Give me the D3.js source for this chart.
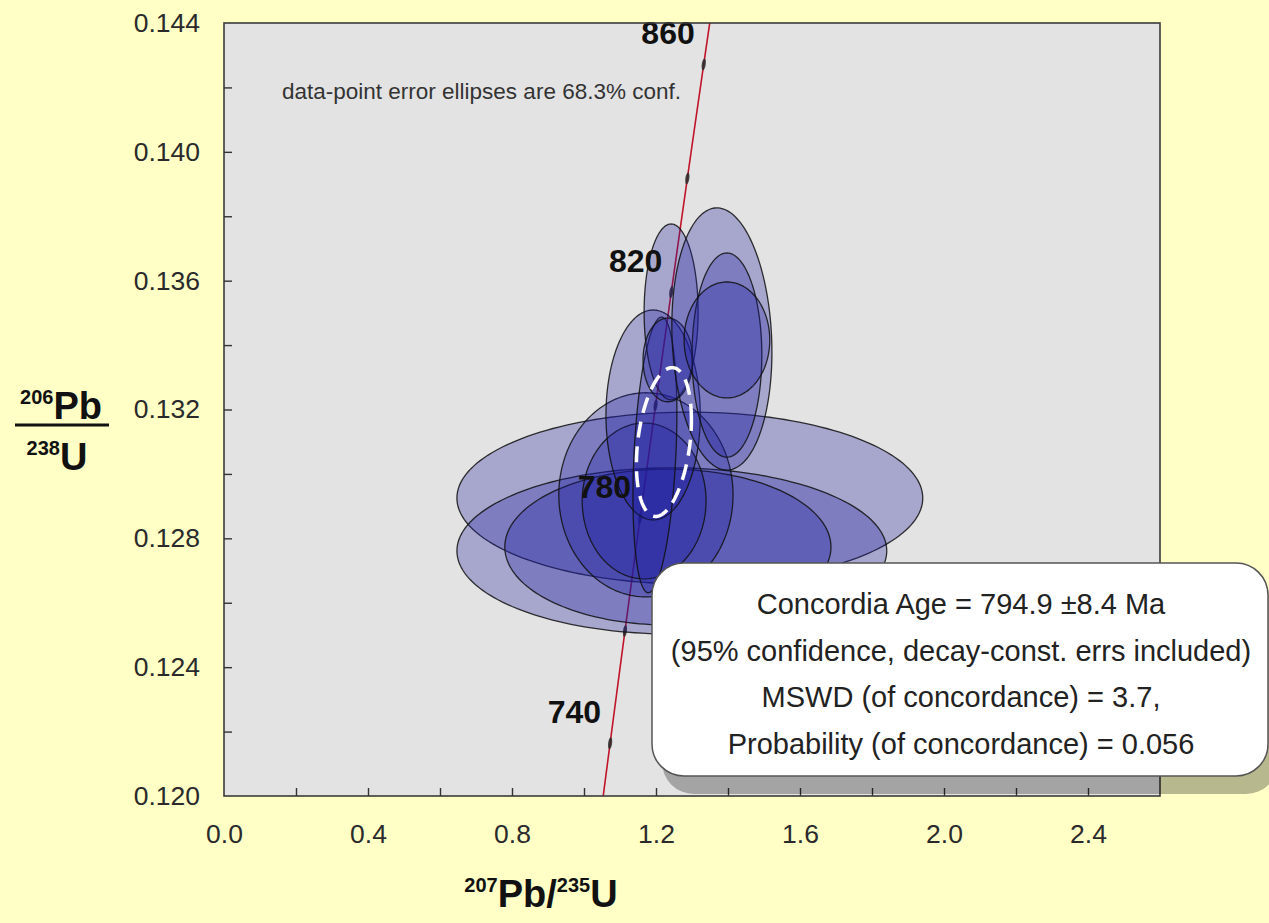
<!DOCTYPE html>
<html>
<head>
<meta charset="utf-8">
<script src="https://cdn.jsdelivr.net/npm/d3@7/dist/d3.min.js"></script>
<style>
  html, body { margin: 0; padding: 0; background: #ffffc6; }
  svg { display: block; }
  text { font-family: "Liberation Sans", Arial, sans-serif; }
</style>
</head>
<body>
<svg id="chart" width="1269" height="923"></svg>
<script>
// ---- data -------------------------------------------------------------
// Error ellipses (68.3% conf.): centre 207Pb/235U, centre 206Pb/238U,
// half-axis in x, half-axis in y, error correlation
const ellX   = [1.294, 1.244, 1.233, 1.172, 1.167, 1.192, 1.197, 1.242, 1.233, 1.383, 1.397, 1.397];
const ellY   = [0.12925, 0.12761, 0.12773, 0.12935, 0.12916, 0.13183, 0.13059, 0.13503, 0.13354, 0.13419, 0.13369, 0.13416];
const ellSX  = [0.647, 0.597, 0.453, 0.242, 0.172, 0.131, 0.061, 0.075, 0.069, 0.139, 0.097, 0.119];
const ellSY  = [0.00267, 0.00258, 0.00242, 0.00317, 0.00242, 0.00326, 0.00428, 0.00273, 0.00130, 0.00407, 0.00317, 0.00180];
const ellRho = [0, 0, 0, 0, 0, 0, 0.3, 0, 0, -0.1, 0, 0];

// Concordia-age ellipse (95% conf.)
const ageEllipse = { x: 1.222, y: 0.13099, sx: 0.0764, sy: 0.00231, rho: 0.3 };

// Concordia curve: decay constants (1/yr) and age marks (Ma)
const lambda238 = 1.55125e-10;
const lambda235 = 9.8485e-10;
const ageMarks  = [740, 760, 780, 800, 820, 840, 860];
const ageLabels = [740, 780, 820, 860];

// Axes
const xDomain = [0, 2.6];
const yDomain = [0.120, 0.144];
const xTicksMinor = [0.0, 0.2, 0.4, 0.6, 0.8, 1.0, 1.2, 1.4, 1.6, 1.8, 2.0, 2.2, 2.4];
const xTicksMajor = [0.0, 0.4, 0.8, 1.2, 1.6, 2.0, 2.4];
const yTicksMinor = [0.120, 0.122, 0.124, 0.126, 0.128, 0.130, 0.132, 0.134, 0.136, 0.138, 0.140, 0.142, 0.144];
const yTicksMajor = [0.120, 0.124, 0.128, 0.132, 0.136, 0.140, 0.144];

const noteText = "data-point error ellipses are 68.3% conf.";
const resultLines = [
  "Concordia Age = 794.9 \u00B18.4 Ma",
  "(95% confidence, decay-const. errs included)",
  "MSWD (of concordance) = 3.7,",
  "Probability (of concordance) = 0.056"
];

// ---- layout -----------------------------------------------------------
const plot = { left: 224, top: 23, right: 1160, bottom: 796 };
const svg = d3.select("#chart");

const x = d3.scaleLinear().domain(xDomain).range([plot.left, plot.right]);
const y = d3.scaleLinear().domain(yDomain).range([plot.bottom, plot.top]);

svg.append("defs").append("clipPath").attr("id", "plotClip")
  .append("rect")
  .attr("x", plot.left).attr("y", plot.top)
  .attr("width", plot.right - plot.left).attr("height", plot.bottom - plot.top);

// plot background
svg.append("rect")
  .attr("x", plot.left).attr("y", plot.top)
  .attr("width", plot.right - plot.left).attr("height", plot.bottom - plot.top)
  .attr("fill", "#e3e3e3");

const g = svg.append("g").attr("clip-path", "url(#plotClip)");

// concordia curve
function concordia(t) {
  return [Math.exp(lambda235 * t * 1e6) - 1, Math.exp(lambda238 * t * 1e6) - 1];
}
const curveAges = d3.range(700, 900.5, 0.5);
const line = d3.line().x(d => x(d[0])).y(d => y(d[1]));
g.append("path")
  .datum(curveAges.map(concordia))
  .attr("d", line)
  .attr("fill", "none")
  .attr("stroke", "#c0142a")
  .attr("stroke-width", 1.6);

// age marks on the curve, drawn as small ellipses aligned with the curve
ageMarks.forEach(t => {
  const p = concordia(t), q = concordia(t + 1);
  const px = x(p[0]), py = y(p[1]);
  const ang = Math.atan2(y(q[1]) - py, x(q[0]) - px) * 180 / Math.PI;
  g.append("ellipse")
    .attr("cx", px).attr("cy", py)
    .attr("rx", 6).attr("ry", 2)
    .attr("transform", `rotate(${ang},${px},${py})`)
    .attr("fill", "#2a2a2a")
    .attr("opacity", 0.85);
});

// error ellipses
function ellipsePoints(cx, cy, sx, sy, rho) {
  const r = Math.sqrt(1 - rho * rho);
  return d3.range(0, 2 * Math.PI, Math.PI / 90).map(a => [
    cx + sx * Math.cos(a),
    cy + sy * (rho * Math.cos(a) + r * Math.sin(a))
  ]);
}
const closed = d3.line().x(d => x(d[0])).y(d => y(d[1])).curve(d3.curveLinearClosed);

g.selectAll("path.ell")
  .data(ellX.map((v, i) => ellipsePoints(v, ellY[i], ellSX[i], ellSY[i], ellRho[i])))
  .join("path")
  .attr("class", "ell")
  .attr("d", closed)
  .attr("fill", "#1e1ea0")
  .attr("fill-opacity", 0.3)
  .attr("stroke", "#111")
  .attr("stroke-opacity", 0.85)
  .attr("stroke-width", 1.3);

// concordia-age ellipse
g.append("path")
  .datum(ellipsePoints(ageEllipse.x, ageEllipse.y, ageEllipse.sx, ageEllipse.sy, ageEllipse.rho))
  .attr("d", closed)
  .attr("fill", "none")
  .attr("stroke", "#ffffff")
  .attr("stroke-width", 3.5)
  .attr("stroke-dasharray", "16 9");

// age labels
ageLabels.forEach(t => {
  const p = concordia(t);
  svg.append("text")
    .attr("x", x(p[0]) - 9)
    .attr("y", y(p[1]) - 20)
    .attr("text-anchor", "end")
    .attr("font-size", 32)
    .attr("font-weight", "bold")
    .attr("fill", "#111")
    .text(t);
});

// note
svg.append("text")
  .attr("x", 282).attr("y", 99)
  .attr("font-size", 22.5)
  .attr("fill", "#333")
  .text(noteText);

// plot frame
svg.append("rect")
  .attr("x", plot.left).attr("y", plot.top)
  .attr("width", plot.right - plot.left).attr("height", plot.bottom - plot.top)
  .attr("fill", "none").attr("stroke", "#3a3a3a").attr("stroke-width", 1.6);

// axes
const fmtX = d => xTicksMajor.some(v => Math.abs(v - d) < 1e-9) ? d3.format(".1f")(d) : "";
const fmtY = d => yTicksMajor.some(v => Math.abs(v - d) < 1e-9) ? d3.format(".3f")(d) : "";

const xAxis = svg.append("g")
  .attr("transform", `translate(0,${plot.bottom})`)
  .call(d3.axisBottom(x).tickValues(xTicksMinor).tickFormat(fmtX).tickSize(-8).tickPadding(28));
const yAxis = svg.append("g")
  .attr("transform", `translate(${plot.left},0)`)
  .call(d3.axisLeft(y).tickValues(yTicksMinor).tickFormat(fmtY).tickSize(-8).tickPadding(24));

[xAxis, yAxis].forEach(a => {
  a.select(".domain").remove();
  a.selectAll(".tick line").attr("stroke", "#333").attr("stroke-width", 1.4);
  a.selectAll(".tick text")
    .attr("font-size", 26.5)
    .attr("fill", "#2a2a2a")
    .style("font-family", "'Liberation Sans', Arial, sans-serif");
});
// hide ticks at the frame corners
xAxis.selectAll(".tick").filter(d => d === 0).select("line").remove();
yAxis.selectAll(".tick").filter(d => Math.abs(d - 0.120) < 1e-9 || Math.abs(d - 0.144) < 1e-9).select("line").remove();

// x-axis title: 207Pb/235U
const xt = svg.append("text")
  .attr("x", 541).attr("y", 907)
  .attr("text-anchor", "middle")
  .attr("font-weight", "bold")
  .attr("fill", "#111");
xt.append("tspan").attr("font-size", 20).attr("dy", -15).text("207");
xt.append("tspan").attr("font-size", 38).attr("dy", 15).text("Pb/");
xt.append("tspan").attr("font-size", 20).attr("dy", -15).text("235");
xt.append("tspan").attr("font-size", 38).attr("dy", 15).text("U");

// y-axis title: 206Pb over 238U
const yt1 = svg.append("text")
  .attr("x", 61).attr("y", 419)
  .attr("text-anchor", "middle")
  .attr("font-weight", "bold")
  .attr("fill", "#111");
yt1.append("tspan").attr("font-size", 20).attr("dy", -15).text("206");
yt1.append("tspan").attr("font-size", 38).attr("dy", 15).text("Pb");
svg.append("line")
  .attr("x1", 15).attr("x2", 109)
  .attr("y1", 425).attr("y2", 425)
  .attr("stroke", "#111").attr("stroke-width", 3);
const yt2 = svg.append("text")
  .attr("x", 57).attr("y", 470)
  .attr("text-anchor", "middle")
  .attr("font-weight", "bold")
  .attr("fill", "#111");
yt2.append("tspan").attr("font-size", 20).attr("dy", -15).text("238");
yt2.append("tspan").attr("font-size", 38).attr("dy", 15).text("U");

// result box with drop shadow
const box = { x: 652, y: 563, w: 616, h: 213, r: 32 };
svg.append("rect")
  .attr("x", box.x + 10).attr("y", box.y + 18)
  .attr("width", box.w).attr("height", box.h)
  .attr("rx", box.r).attr("ry", box.r)
  .attr("fill", "#000").attr("fill-opacity", 0.28);
svg.append("rect")
  .attr("x", box.x).attr("y", box.y)
  .attr("width", box.w).attr("height", box.h)
  .attr("rx", box.r).attr("ry", box.r)
  .attr("fill", "#ffffff")
  .attr("stroke", "#555").attr("stroke-width", 1.5);
svg.selectAll("text.result")
  .data(resultLines)
  .join("text")
  .attr("class", "result")
  .attr("x", 961)
  .attr("y", (d, i) => 614 + i * 46.5)
  .attr("text-anchor", "middle")
  .attr("font-size", 29)
  .attr("fill", "#222")
  .text(d => d);
</script>
</body>
</html>
